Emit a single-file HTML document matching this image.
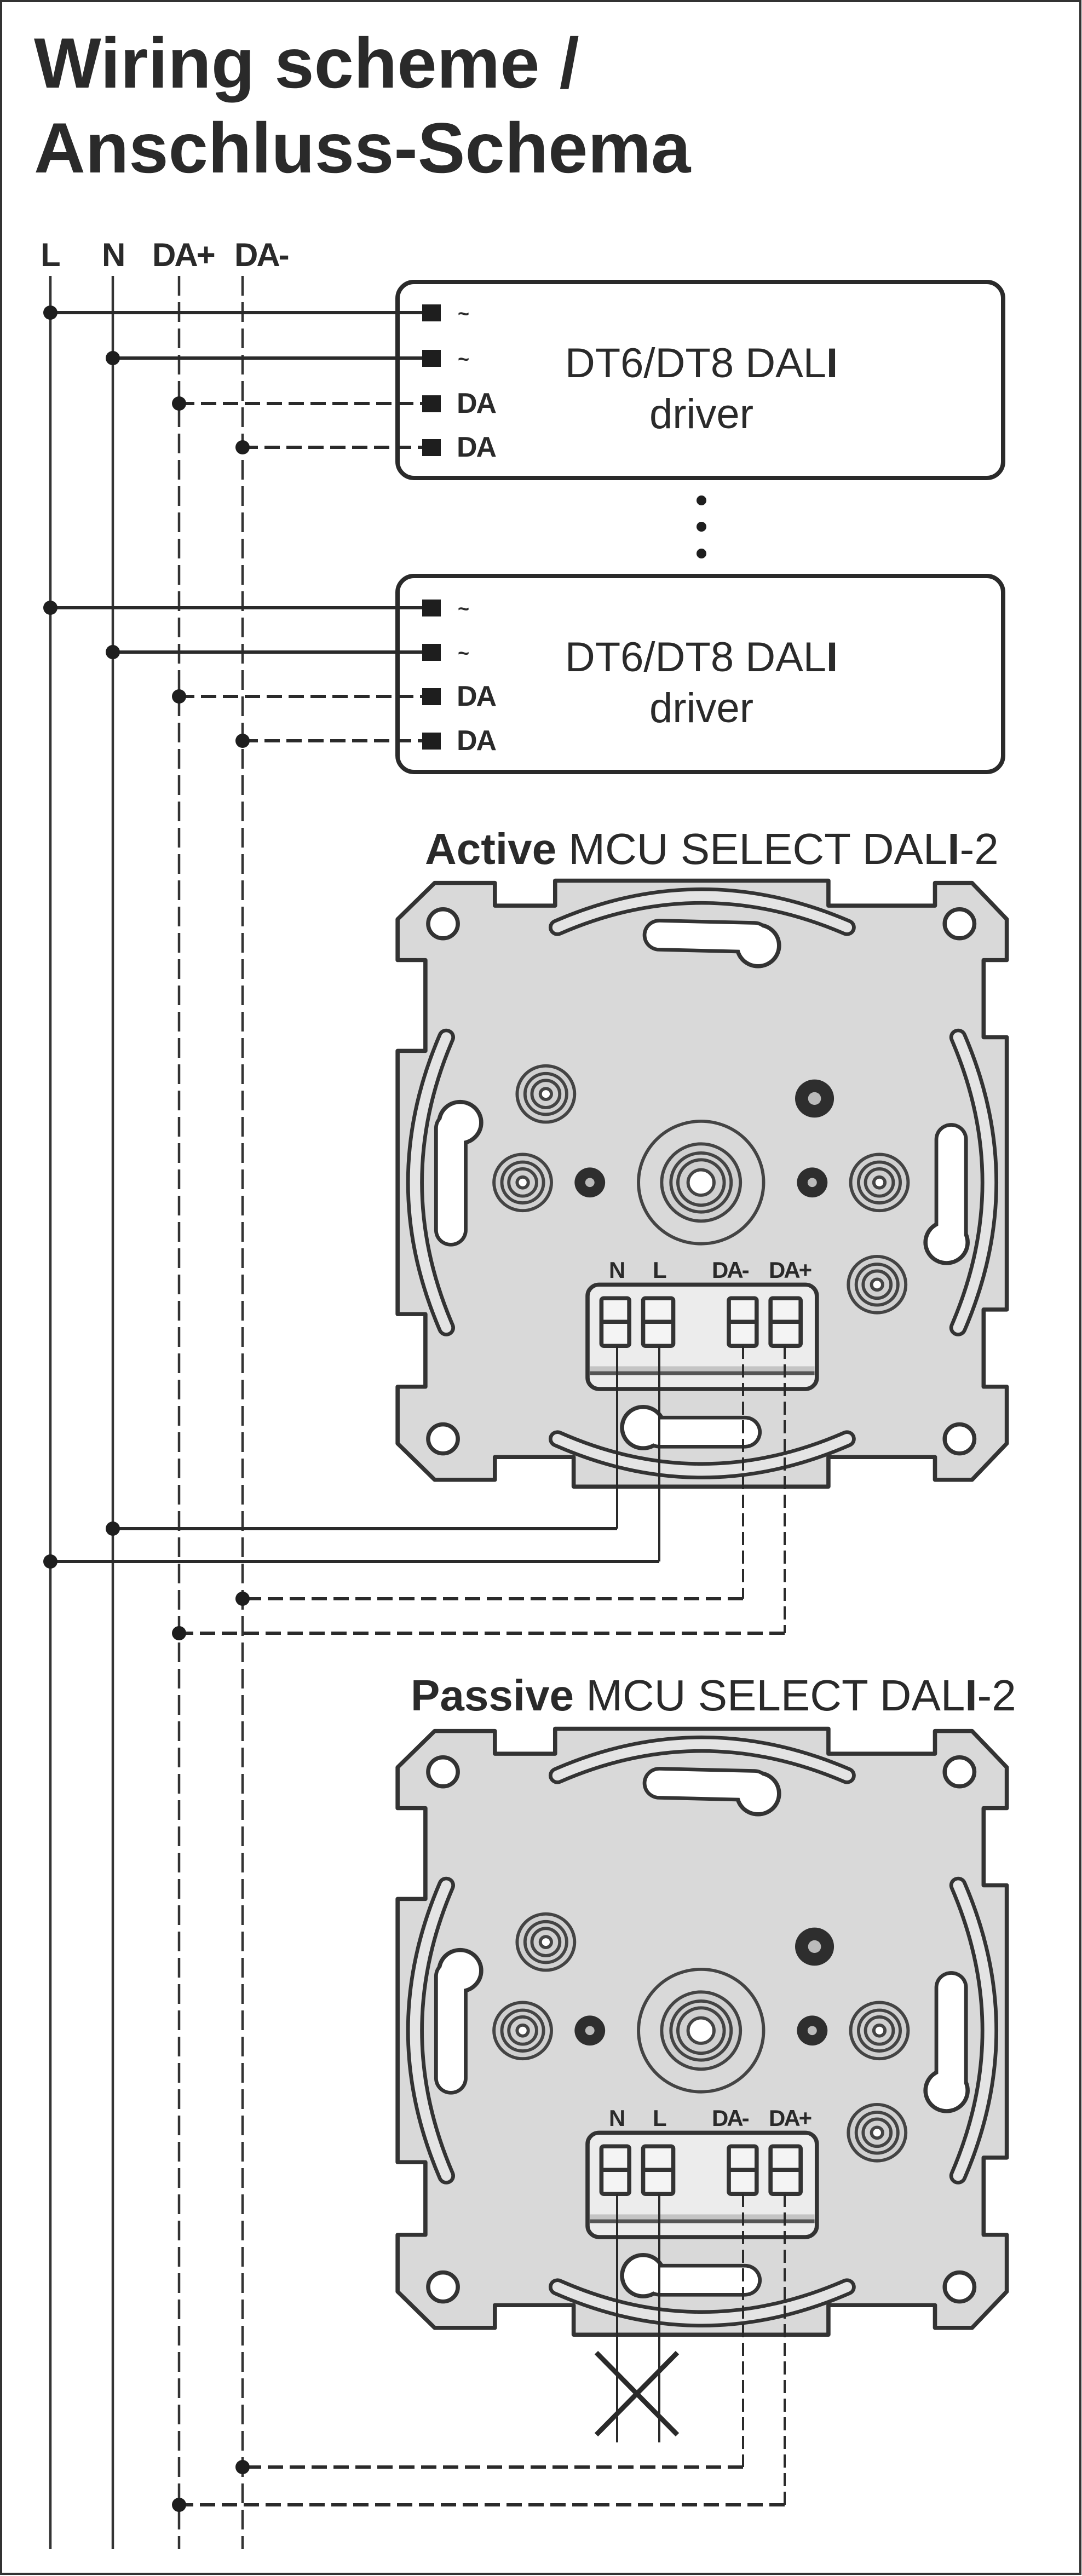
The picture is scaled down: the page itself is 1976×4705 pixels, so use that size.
<!DOCTYPE html>
<html><head><meta charset="utf-8"><style>
html,body{margin:0;padding:0;background:#fff}
svg{display:block}
text{font-family:"Liberation Sans",sans-serif;fill:#2a2a2a}
</style></head><body>
<svg width="1976" height="4705" viewBox="0 0 1976 4705" xmlns="http://www.w3.org/2000/svg">
<defs>
<g id="dev">
  <path d="M170,160 L300,160 L300,210 L430,210 L430,155 L1020,155 L1020,210 L1250,210 L1250,160 L1330,160 L1405,240 L1405,330 L1355,330 L1355,500 L1405,500 L1405,1100 L1355,1100 L1355,1270 L1405,1270 L1405,1395 L1330,1475 L1250,1475 L1250,1425 L1020,1425 L1020,1490 L470,1490 L470,1425 L300,1425 L300,1475 L170,1475 L90,1395 L90,1270 L150,1270 L150,1110 L90,1110 L90,530 L150,530 L150,330 L90,330 L90,240 Z" fill="#d9d9d9" stroke="#333" stroke-width="9" stroke-linejoin="round"/>
  <g fill="#fff" stroke="#333" stroke-width="9">
    <circle cx="188" cy="250" r="32"/><circle cx="1303" cy="250" r="32"/>
    <circle cx="188" cy="1385" r="32"/><circle cx="1303" cy="1385" r="32"/>
  </g>
  <g fill="none" stroke-linecap="round">
    <path d="M435,258 Q745,120 1060,258" stroke="#333" stroke-width="38"/>
    <path d="M435,258 Q745,120 1060,258" stroke="#e4e4e4" stroke-width="22"/>
    <path d="M435,1385 Q745,1525 1060,1385" stroke="#333" stroke-width="38"/>
    <path d="M435,1385 Q745,1525 1060,1385" stroke="#e4e4e4" stroke-width="22"/>
    <path d="M195,500 Q60,820 195,1140" stroke="#333" stroke-width="38"/>
    <path d="M195,500 Q60,820 195,1140" stroke="#e4e4e4" stroke-width="22"/>
    <path d="M1300,500 Q1435,820 1300,1140" stroke="#333" stroke-width="38"/>
    <path d="M1300,500 Q1435,820 1300,1140" stroke="#e4e4e4" stroke-width="22"/>
  </g>
  <g stroke="#333" stroke-linecap="round" fill="#333">
    <line x1="655" y1="275" x2="860" y2="280" stroke-width="72"/>
    <circle cx="868" cy="298" r="50" stroke="none"/>
    <line x1="655" y1="1370" x2="840" y2="1370" stroke-width="72"/>
    <circle cx="620" cy="1360" r="50" stroke="none"/>
    <line x1="205" y1="700" x2="205" y2="925" stroke-width="72"/>
    <circle cx="225" cy="688" r="50" stroke="none"/>
    <line x1="1285" y1="725" x2="1285" y2="945" stroke-width="72"/>
    <circle cx="1275" cy="952" r="50" stroke="none"/>
  </g>
  <g stroke="#fff" stroke-linecap="round" fill="#fff">
    <line x1="655" y1="275" x2="860" y2="280" stroke-width="56"/>
    <circle cx="868" cy="298" r="41" stroke="none"/>
    <line x1="655" y1="1370" x2="840" y2="1370" stroke-width="56"/>
    <circle cx="620" cy="1360" r="41" stroke="none"/>
    <line x1="205" y1="700" x2="205" y2="925" stroke-width="56"/>
    <circle cx="225" cy="688" r="41" stroke="none"/>
    <line x1="1285" y1="725" x2="1285" y2="945" stroke-width="56"/>
    <circle cx="1275" cy="952" r="41" stroke="none"/>
  </g>
  <g fill="#d0d0d0" stroke="#444" stroke-width="7">
    <g><circle cx="410" cy="625" r="62"/><circle cx="410" cy="625" r="45"/><circle cx="410" cy="625" r="30"/><circle cx="410" cy="625" r="12" fill="#fff"/></g>
    <g><circle cx="360" cy="820" r="62"/><circle cx="360" cy="820" r="45"/><circle cx="360" cy="820" r="30"/><circle cx="360" cy="820" r="12" fill="#fff"/></g>
    <g><circle cx="1130" cy="820" r="62"/><circle cx="1130" cy="820" r="45"/><circle cx="1130" cy="820" r="30"/><circle cx="1130" cy="820" r="12" fill="#fff"/></g>
    <g><circle cx="1125" cy="1045" r="62"/><circle cx="1125" cy="1045" r="45"/><circle cx="1125" cy="1045" r="30"/><circle cx="1125" cy="1045" r="12" fill="#fff"/></g>
  </g>
  <circle cx="990" cy="635" r="42" fill="#2e2e2e"/><circle cx="990" cy="635" r="14" fill="#bbb"/>
  <circle cx="505" cy="820" r="33" fill="#2e2e2e"/><circle cx="505" cy="820" r="10" fill="#bbb"/>
  <circle cx="985" cy="820" r="33" fill="#2e2e2e"/><circle cx="985" cy="820" r="10" fill="#bbb"/>
  <g fill="none" stroke="#444" stroke-width="7">
    <circle cx="745" cy="820" r="135"/>
    <circle cx="745" cy="820" r="85" fill="#d0d0d0"/>
    <circle cx="745" cy="820" r="65"/>
    <circle cx="745" cy="820" r="50"/>
    <circle cx="745" cy="820" r="28" fill="#fff"/>
  </g>
  <rect x="500" y="1045" width="495" height="230" rx="25" fill="#ececec" stroke="#333" stroke-width="9"/>
  <rect x="505" y="1225" width="485" height="20" fill="#c4c4c4"/>
  <line x1="505" y1="1240" x2="990" y2="1240" stroke="#555" stroke-width="8"/>
  <g fill="#f4f4f4" stroke="#333" stroke-width="9">
    <rect x="530" y="1075" width="60" height="105" rx="5"/>
    <rect x="620" y="1075" width="65" height="105" rx="5"/>
    <rect x="805" y="1075" width="60" height="105" rx="5"/>
    <rect x="895" y="1075" width="65" height="105" rx="5"/>
  </g>
  <g stroke="#333" stroke-width="9">
    <line x1="530" y1="1127" x2="590" y2="1127"/><line x1="620" y1="1127" x2="685" y2="1127"/>
    <line x1="805" y1="1127" x2="865" y2="1127"/><line x1="895" y1="1127" x2="960" y2="1127"/>
  </g>
</g>
</defs>

<rect x="2" y="2" width="1971" height="4699" fill="none" stroke="#333" stroke-width="4"/>

<text x="62" y="160" font-size="130" font-weight="bold">Wiring scheme /</text>
<text x="62" y="315" font-size="130" font-weight="bold">Anschluss-Schema</text>

<g font-size="60" font-weight="bold" letter-spacing="-3">
<text x="74" y="486">L</text><text x="186" y="486">N</text><text x="278" y="486">DA+</text><text x="428" y="486">DA-</text>
</g>

<g stroke="#333" stroke-width="4.5">
<line x1="92" y1="504" x2="92" y2="4656"/>
<line x1="206" y1="504" x2="206" y2="4656"/>
<line x1="327" y1="504" x2="327" y2="4656" stroke-dasharray="36 12"/>
<line x1="443" y1="504" x2="443" y2="4656" stroke-dasharray="36 12"/>
</g>

<g fill="none" stroke="#2a2a2a" stroke-width="8">
<rect x="726" y="515" width="1106" height="358" rx="30"/>
<rect x="726" y="1052" width="1106" height="358" rx="30"/>
</g>
<g fill="#1e1e1e">
<circle cx="1281" cy="914" r="9"/><circle cx="1281" cy="962" r="9"/><circle cx="1281" cy="1011" r="9"/>
</g>

<g stroke="#2a2a2a" stroke-width="6">
<line x1="92" y1="571" x2="775" y2="571"/>
<line x1="206" y1="654" x2="775" y2="654"/>
<line x1="327" y1="737" x2="775" y2="737" stroke-dasharray="28 12"/>
<line x1="443" y1="817" x2="775" y2="817" stroke-dasharray="28 12"/>
<line x1="92" y1="1110" x2="775" y2="1110"/>
<line x1="206" y1="1191" x2="775" y2="1191"/>
<line x1="327" y1="1272" x2="775" y2="1272" stroke-dasharray="28 12"/>
<line x1="443" y1="1353" x2="775" y2="1353" stroke-dasharray="28 12"/>
</g>
<g fill="#1e1e1e">
<circle cx="92" cy="571" r="13"/><circle cx="206" cy="654" r="13"/><circle cx="327" cy="737" r="13"/><circle cx="443" cy="817" r="13"/>
<circle cx="92" cy="1110" r="13"/><circle cx="206" cy="1191" r="13"/><circle cx="327" cy="1272" r="13"/><circle cx="443" cy="1353" r="13"/>
<rect x="771" y="556" width="34" height="31"/><rect x="771" y="639" width="34" height="31"/><rect x="771" y="722" width="34" height="31"/><rect x="771" y="802" width="34" height="31"/>
<rect x="771" y="1095" width="34" height="31"/><rect x="771" y="1176" width="34" height="31"/><rect x="771" y="1257" width="34" height="31"/><rect x="771" y="1338" width="34" height="31"/>
</g>
<g font-size="52" font-weight="bold" letter-spacing="-2">
<text x="836" y="585" font-size="36">~</text><text x="836" y="668" font-size="36">~</text>
<text x="834" y="754">DA</text><text x="834" y="834">DA</text>
<text x="836" y="1124" font-size="36">~</text><text x="836" y="1205" font-size="36">~</text>
<text x="834" y="1289">DA</text><text x="834" y="1370">DA</text>
</g>
<g font-size="76" text-anchor="middle">
<text x="1281" y="689">DT6/DT8 DAL<tspan font-weight="bold">I</tspan></text>
<text x="1281" y="782">driver</text>
<text x="1281" y="1226">DT6/DT8 DAL<tspan font-weight="bold">I</tspan></text>
<text x="1281" y="1319">driver</text>
</g>

<text x="776" y="1578" font-size="80"><tspan font-weight="bold">Active</tspan> MCU SELECT DAL<tspan font-weight="bold">I</tspan>-2</text>
<use href="#dev" transform="translate(650,1480) scale(0.846,0.829)"/>
<g font-size="42" font-weight="bold" letter-spacing="-3">
<text x="1112" y="2334">N</text><text x="1192" y="2334">L</text><text x="1300" y="2334">DA-</text><text x="1404" y="2334">DA+</text>
</g>

<text x="750" y="3124" font-size="80"><tspan font-weight="bold">Passive</tspan> MCU SELECT DAL<tspan font-weight="bold">I</tspan>-2</text>
<use href="#dev" transform="translate(650,3029) scale(0.846,0.829)"/>
<g font-size="42" font-weight="bold" letter-spacing="-3">
<text x="1112" y="3883">N</text><text x="1192" y="3883">L</text><text x="1300" y="3883">DA-</text><text x="1404" y="3883">DA+</text>
</g>

<g stroke="#2a2a2a" fill="none">
<line x1="1127" y1="2458" x2="1127" y2="2792" stroke-width="4"/>
<line x1="1127" y1="2792" x2="206" y2="2792" stroke-width="6"/>
<line x1="1204" y1="2458" x2="1204" y2="2852" stroke-width="4"/>
<line x1="1204" y1="2852" x2="92" y2="2852" stroke-width="6"/>
<line x1="1357" y1="2458" x2="1357" y2="2920" stroke-width="4" stroke-dasharray="24 10"/>
<line x1="1357" y1="2920" x2="443" y2="2920" stroke-width="6" stroke-dasharray="28 12"/>
<line x1="1433" y1="2458" x2="1433" y2="2983" stroke-width="4" stroke-dasharray="24 10"/>
<line x1="1433" y1="2983" x2="327" y2="2983" stroke-width="6" stroke-dasharray="28 12"/>
</g>
<g fill="#1e1e1e"><circle cx="206" cy="2792" r="13"/><circle cx="92" cy="2852" r="13"/><circle cx="443" cy="2920" r="13"/><circle cx="327" cy="2983" r="13"/></g>

<g stroke="#2a2a2a" fill="none">
<line x1="1127" y1="4007" x2="1127" y2="4461" stroke-width="4"/>
<line x1="1204" y1="4007" x2="1204" y2="4461" stroke-width="4"/>
<line x1="1089" y1="4297" x2="1237" y2="4447" stroke-width="9"/>
<line x1="1237" y1="4297" x2="1089" y2="4447" stroke-width="9"/>
<line x1="1357" y1="4007" x2="1357" y2="4506" stroke-width="4" stroke-dasharray="24 10"/>
<line x1="1357" y1="4506" x2="443" y2="4506" stroke-width="6" stroke-dasharray="28 12"/>
<line x1="1433" y1="4007" x2="1433" y2="4575" stroke-width="4" stroke-dasharray="24 10"/>
<line x1="1433" y1="4575" x2="327" y2="4575" stroke-width="6" stroke-dasharray="28 12"/>
</g>
<g fill="#1e1e1e"><circle cx="443" cy="4506" r="13"/><circle cx="327" cy="4575" r="13"/></g>
</svg>
</body></html>
